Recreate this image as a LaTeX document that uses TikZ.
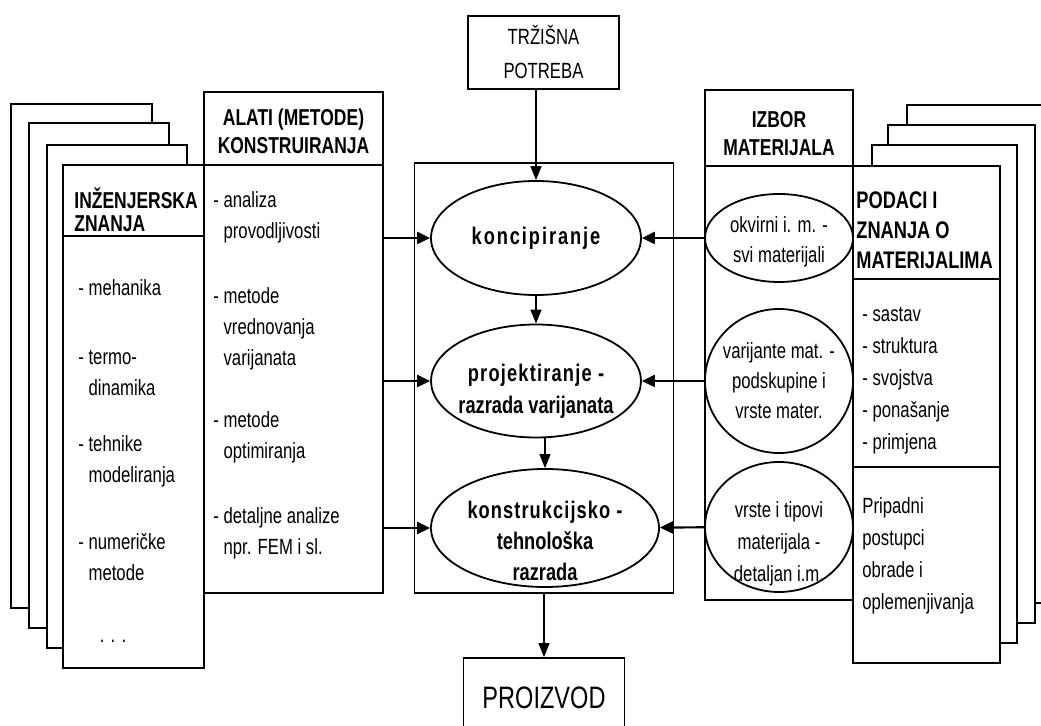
\documentclass[tikz,border=0pt]{standalone}
\usepackage{fontspec}
\setmainfont{Liberation Sans}[FakeStretch=0.76]
\usetikzlibrary{arrows.meta, shapes.geometric}

\tikzset{
  box/.style={draw, fill=white, rectangle, inner sep=0pt, line width=0.9pt},
  card/.style={draw, fill=white, line width=0.9pt},
  faza/.style={draw, fill=white, ellipse, inner sep=0pt, line width=0.9pt},
  head/.style={font=\bfseries\fontsize{11.5}{14}\selectfont, align=center, inner sep=0pt},
  txt/.style={font=\fontsize{11}{15.5}\selectfont, align=left, inner sep=0pt, anchor=west},
  etxt/.style={font=\bfseries\fontsize{12}{16}\selectfont, align=center, inner sep=0pt},
  mtxt/.style={font=\fontsize{11}{15}\selectfont, align=center, inner sep=0pt},
  arr/.style={-{Triangle[length=6.5pt,width=6pt]}, line width=1.1pt},
  varr/.style={-{Triangle[length=7pt,width=5.5pt]}, line width=0.7pt},
}

\begin{document}
\begin{tikzpicture}[x=0.5pt, y=-0.5pt]
    \useasboundingbox (0,0) rectangle (1041,726);

    % Stack of cards behind the left knowledge card
    \foreach \l/\t/\r/\b in {11/104/152/608, 29/123/169/628, 47/145/187/648}
        \draw[card] (\l,\t) rectangle (\r,\b);
    \node[box, minimum width=70.5pt, minimum height=251.5pt] (inzenjer) at (133.5,416.5) {};
    \draw[line width=0.9pt] (63,236) -- (204,236);
    \node[txt, font=\bfseries\fontsize{11.5}{11.5}\selectfont] (inzhead) at (74,210) {INŽENJERSKA\\ZNANJA};
    \node[txt] (mehanika) at (78,288) {- mehanika};
    \node[txt] (termo) at (78,373) {- termo-\\\hphantom{- }dinamika};
    \node[txt] (tehnike) at (78,461) {- tehnike\\\hphantom{- }modeliranja};
    \node[txt] (numericke) at (78,557) {- numeričke\\\hphantom{- }metode};
    \node[txt, anchor=center] (tockice) at (113,641) {. . .};

    % Tools of design
    \node[box, minimum width=89.5pt, minimum height=250.5pt] (alati) at (293.5,342.5) {};
    \draw[line width=0.9pt] (204,165) -- (383,165);
    \node[head] (alatihead) at (293.5,131) {ALATI (METODE)\\KONSTRUIRANJA};
    \node[txt] (analiza) at (213,217) {- analiza\\\hphantom{- }provodljivosti};
    \node[txt] (vrednovanje) at (213,329) {- metode\\\hphantom{- }vrednovanja\\\hphantom{- }varijanata};
    \node[txt] (optimiranje) at (213,437) {- metode\\\hphantom{- }optimiranja};
    \node[txt] (detaljne) at (213,533) {- detaljne analize\\\hphantom{- }npr. FEM i sl.};

    % Market need and product
    \node[box, mtxt, font=\fontsize{11}{17}\selectfont, minimum width=75.5pt, minimum height=36.5pt] (trzisna) at (543.5,52.5) {TRŽIŠNA\\POTREBA};
    \node[box, font=\fontsize{15.5}{16}\selectfont, minimum width=80.5pt, minimum height=40pt] (proizvod) at (544,698) {PROIZVOD};

    % Design process
    \node[box, minimum width=129.5pt, minimum height=215pt] (proces) at (544,378) {};
    \node[faza, minimum width=105pt, minimum height=57pt,
          label={[etxt]center:{\addfontfeature{LetterSpace=8}koncipiranje}}] (konc) at (536,238) {};
    \node[faza, minimum width=105pt, minimum height=56.5pt,
          label={[etxt, yshift=-5pt]center:{{\addfontfeature{LetterSpace=5}projektiranje -}\\razrada varijanata}}] (proj) at (536,381) {};
    \node[faza, minimum width=114pt, minimum height=59pt,
          label={[etxt, yshift=-6.5pt, font=\bfseries\fontsize{12}{15.5}\selectfont]center:{{\addfontfeature{LetterSpace=4.5}konstrukcijsko -}\\tehnološka\\razrada}}] (konstr) at (545,528) {};

    % Material selection
    \node[box, minimum width=74pt, minimum height=255pt] (izbor) at (779,345) {};
    \draw[line width=0.9pt] (705,166) -- (853,166);
    \node[head] (izborhead) at (779,134) {IZBOR\\MATERIJALA};
    \node[faza, minimum width=74pt, minimum height=44pt,
          label={[mtxt, yshift=-2pt]center:{okvirni i. m. -\\svi materijali}}] (okvirni) at (779,238) {};
    \node[faza, minimum width=74pt, minimum height=72pt,
          label={[mtxt]center:{varijante mat. -\\podskupine i\\vrste mater.}}] (varijante) at (779,381) {};
    \node[faza, minimum width=74pt, minimum height=65pt,
          label={[mtxt, yshift=-8.5pt, font=\fontsize{11}{16}\selectfont]center:{vrste i tipovi\\materijala -\\detaljan i.m.}}] (vrste) at (779,527) {};

    % Stack of cards behind the material data card
    \foreach \l/\t/\r/\b in {907/105/1053/603, 888/125/1035/623, 872/145/1017/643}
        \draw[card] (\l,\t) rectangle (\r,\b);
    \node[box, minimum width=73.5pt, minimum height=248.5pt] (podaci) at (926.5,414.5) {};
    \draw[line width=0.9pt] (853,279) -- (1000,279);
    \draw[line width=0.9pt] (853,467) -- (1000,467);
    \node[txt, font=\bfseries\fontsize{12}{15}\selectfont] (podacihead) at (856,230) {PODACI I\\ZNANJA O\\MATERIJALIMA};
    \node[txt, font=\fontsize{11}{16}\selectfont] (svojstva) at (862,381) {- sastav\\- struktura\\- svojstva\\- ponašanje\\- primjena};
    \node[txt, font=\fontsize{11}{16}\selectfont] (postupci) at (862,556) {Pripadni\\postupci\\obrade i\\oplemenjivanja};

    % Flow between phases
    \draw[varr] (trzisna.south -| konc) -- (konc);
    \draw[varr] (konc) -- (proj);
    \draw[varr] (proj.south -| konstr) -- (konstr);
    \draw[varr] (proces) -- (proizvod);

    % Inputs from tools and materials
    \draw[arr] (alati.east |- konc) -- (konc);
    \draw[arr] (alati.east |- proj) -- (proj);
    \draw[arr] (alati.east |- konstr) -- (konstr);
    \draw[arr] (okvirni) -- (konc);
    \draw[arr] (varijante) -- (proj);
    \draw[arr] (vrste) -- (konstr);
\end{tikzpicture}
\end{document}
